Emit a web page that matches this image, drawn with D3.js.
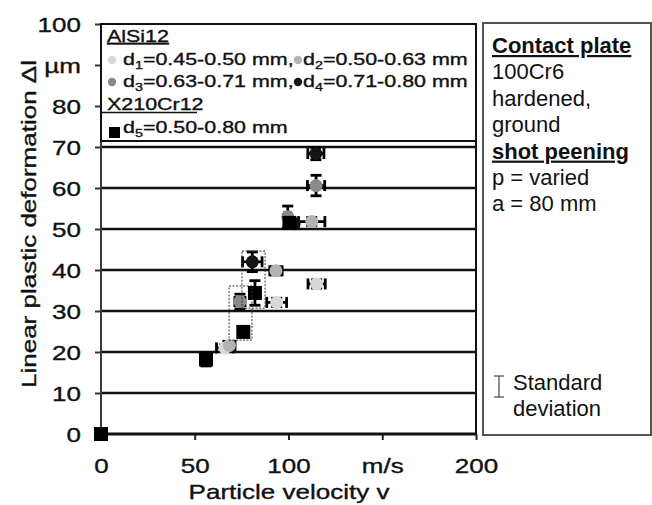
<!DOCTYPE html>
<html>
<head>
<meta charset="utf-8">
<script src="https://cdn.jsdelivr.net/npm/d3@7"></script>
<style>
	body { margin: 0; background: #fff; }
	svg { display: block; font-family: "Liberation Sans", Arial, sans-serif; }
	.wide { stroke: #111; stroke-width: 0.35px; }
</style>
</head>
<body>
<svg width="652" height="505"></svg>
<script>
// values: velocity v (m/s), deformation dl (µm) and their standard deviations
const seriesKeys = ["d1", "d2", "d3", "d4", "d5"]
const seriesSubs = ["1", "2", "3", "4", "5"]
const seriesRanges = ["=0.45-0.50 mm,", "=0.50-0.63 mm", "=0.63-0.71 mm,", "=0.71-0.80 mm", "=0.50-0.80 mm"]
const seriesColors = ["#d8d8d8", "#b3b3b3", "#8a8a8a", "#141414", "#000000"]

const d1V = [66.1, 93.7, 115.0], d1Dl = [21.0, 32.1, 36.6], d1SdV = [4.5, 5.3, 4.6], d1SdDl = [0.8, 1.0, 1.0]
const d2V = [68.5, 93.3, 112.4], d2Dl = [21.6, 39.8, 51.8], d2SdV = [3.0, 3.3, 7.0], d2SdDl = [0.8, 1.0, 1.0]
const d3V = [74.1, 99.6, 114.7], d3Dl = [32.3, 53.0, 60.6], d3SdV = [2.7, 1.5, 4.6], d3SdDl = [1.8, 2.6, 2.5]
const d4V = [80.7, 103.0, 114.6], d4Dl = [42.0, 51.3, 68.4], d4SdV = [5.2, 2.0, 4.3], d4SdDl = [2.4, 1.0, 1.5]
const d5V = [0, 56.0, 75.9, 82.1, 100.5], d5Dl = [0, 18.2, 24.9, 34.4, 51.5], d5SdV = [0, 1.5, 1.0, 1.5, 2.0], d5SdDl = [0, 1.6, 1.0, 3.0, 1.0]

const xTicks = [0, 50, 100, 150, 200]
const xTickLabels = ["0", "50", "100", "m/s", "200"]
const yTicks = [0, 10, 20, 30, 40, 50, 60, 70, 80, 90, 100]
const yTickLabels = ["0", "10", "20", "30", "40", "50", "60", "70", "80", "µm", "100"]
const gridValues = [10, 20, 30, 40, 50, 60, 70]

// dotted frames around compared points (v from, v to, dl from, dl to)
const boxV0 = [75.2, 68.3], boxV1 = [87.5, 80.5], boxDl0 = [30.7, 22.9], boxDl1 = [44.6, 36.1]

const infoLines = ["Contact plate", "100Cr6", "hardened,", "ground", "shot peening", "p = varied", "a = 80 mm"]
const infoBold = [true, false, false, false, true, false, false]

const svg = d3.select("svg")
const SX = 1.3 // the plot lettering is drawn wide

const x = d3.scaleLinear().domain([0, 200]).range([101, 476])
const y = d3.scaleLinear().domain([0, 100]).range([434, 24])

const series = seriesKeys.map((k, i) => {
	const v = [d1V, d2V, d3V, d4V, d5V][i]
	const dl = [d1Dl, d2Dl, d3Dl, d4Dl, d5Dl][i]
	const sv = [d1SdV, d2SdV, d3SdV, d4SdV, d5SdV][i]
	const sd = [d1SdDl, d2SdDl, d3SdDl, d4SdDl, d5SdDl][i]
	return { key: k, color: seriesColors[i], points: v.map((d, j) => ({ v: d, dl: dl[j], sv: sv[j], sd: sd[j] })) }
})

let wideText = function (g, px, py, size, anchor) {
	return g.append("text")
		.attr("class", "wide")
		.attr("transform", `translate(${px},${py}) scale(${SX},1)`)
		.attr("font-size", size)
		.attr("text-anchor", anchor)
		.attr("fill", "#111")
}

// gridlines
svg.append("g")
	.selectAll("line")
	.data(gridValues)
	.join("line")
	.attr("x1", x(0)).attr("x2", x(200))
	.attr("y1", d => y(d)).attr("y2", d => y(d))
	.attr("stroke", "#111")
	.attr("stroke-width", 2.5)

// axes
const yAxis = svg.append("g")
	.attr("transform", `translate(${x(0)},0)`)
	.call(d3.axisLeft(y).tickValues(yTicks).tickSize(6).tickFormat((d, i) => yTickLabels[i]))
yAxis.select(".domain").remove()
yAxis.selectAll(".tick line").attr("stroke", "#333").attr("stroke-width", 2)
yAxis.selectAll(".tick text")
	.attr("class", "wide")
	.attr("x", -15.5).attr("dy", "0.36em")
	.attr("transform", `scale(${SX},1)`)
	.attr("font-size", 20).attr("font-family", "Liberation Sans, Arial, sans-serif").attr("fill", "#111")

const xAxis = svg.append("g")
	.attr("transform", `translate(0,${y(0)})`)
	.call(d3.axisBottom(x).tickValues(xTicks).tickSize(6).tickFormat((d, i) => xTickLabels[i]))
xAxis.select(".domain").remove()
xAxis.selectAll(".tick line").attr("stroke", "#222").attr("stroke-width", 2)
xAxis.selectAll(".tick text")
	.attr("class", "wide")
	.attr("y", 39).attr("dy", 0)
	.attr("transform", `scale(${SX},1)`)
	.attr("font-size", 20).attr("font-family", "Liberation Sans, Arial, sans-serif").attr("fill", "#111")

svg.append("line")
	.attr("x1", x(0)).attr("x2", x(200)).attr("y1", y(0)).attr("y2", y(0))
	.attr("stroke", "#111").attr("stroke-width", 3)
svg.append("line")
	.attr("x1", x(0)).attr("x2", x(0)).attr("y1", y(100)).attr("y2", y(0) + 6)
	.attr("stroke", "#3a3a3a").attr("stroke-width", 2)
svg.append("line")
	.attr("x1", x(200)).attr("x2", x(200)).attr("y1", y(100)).attr("y2", y(0))
	.attr("stroke", "#111").attr("stroke-width", 2)

// axis titles
wideText(svg, 289, 499, 20, "middle").text("Particle velocity v")
svg.append("text")
	.attr("class", "wide")
	.attr("transform", `translate(36,224) rotate(-90) scale(${SX},1)`)
	.attr("font-size", 20)
	.attr("text-anchor", "middle")
	.attr("fill", "#111")
	.text("Linear plastic deformation Δl")

// legend box inside the plot
const legend = svg.append("g").attr("class", "legend")
legend.append("rect")
	.attr("x", x(0)).attr("y", y(100))
	.attr("width", x(200) - x(0)).attr("height", 117)
	.attr("fill", "#fff").attr("stroke", "#111").attr("stroke-width", 2)

wideText(legend, 107, 42, 16.5, "start").style("text-decoration", "underline").text("AlSi12")
wideText(legend, 107, 110, 16.5, "start").text("X210Cr12")
legend.append("line")
	.attr("x1", x(0)).attr("x2", 197).attr("y1", 112.5).attr("y2", 112.5)
	.attr("stroke", "#111").attr("stroke-width", 1.5)

const legendPos = [[112, 65], [298, 65], [112, 87], [298, 87], [112, 133]]
series.forEach((s, i) => {
	const [lx, ly] = legendPos[i]
	if (s.key === "d5") {
		legend.append("rect")
			.attr("x", lx - 3).attr("y", ly - 6).attr("width", 11).attr("height", 11)
			.attr("fill", s.color)
	} else {
		legend.append("circle")
			.attr("cx", lx).attr("cy", ly - 5).attr("r", 4.2)
			.attr("fill", s.color)
	}
	const t = wideText(legend, lx + (i % 2 ? 5 : 11), ly, 16.5, "start")
	t.append("tspan").text("d")
	t.append("tspan").attr("font-size", 11).attr("dy", 4).text(seriesSubs[i])
	t.append("tspan").attr("dy", -4).text(seriesRanges[i])
})

// error bars
const cap = 5.5
const bars = svg.append("g").attr("stroke", "#000").attr("stroke-width", 2.8)
series.forEach(s => {
	s.points.filter(p => p.sv > 0 || p.sd > 0).forEach(p => {
		const cx = x(p.v), cy = y(p.dl)
		const xl = x(p.v - p.sv), xr = x(p.v + p.sv)
		const yt = y(p.dl + p.sd), yb = y(p.dl - p.sd)
		bars.append("line").attr("x1", xl).attr("x2", xr).attr("y1", cy).attr("y2", cy)
		bars.append("line").attr("x1", xl).attr("x2", xl).attr("y1", cy - cap).attr("y2", cy + cap)
		bars.append("line").attr("x1", xr).attr("x2", xr).attr("y1", cy - cap).attr("y2", cy + cap)
		bars.append("line").attr("x1", cx).attr("x2", cx).attr("y1", yt).attr("y2", yb)
		bars.append("line").attr("x1", cx - cap).attr("x2", cx + cap).attr("y1", yt).attr("y2", yt)
		bars.append("line").attr("x1", cx - cap).attr("x2", cx + cap).attr("y1", yb).attr("y2", yb)
	})
})

// markers
series.forEach(s => {
	const g = svg.append("g").attr("fill", s.color)
	if (s.key === "d5") {
		g.selectAll("rect")
			.data(s.points)
			.join("rect")
			.attr("x", d => x(d.v) - 7).attr("y", d => y(d.dl) - 7)
			.attr("width", 14).attr("height", 14)
	} else {
		g.selectAll("circle")
			.data(s.points)
			.join("circle")
			.attr("cx", d => x(d.v)).attr("cy", d => y(d.dl)).attr("r", 6.5)
	}
})

// dotted frames
svg.append("g")
	.selectAll("rect")
	.data(boxV0)
	.join("rect")
	.attr("x", (d, i) => x(boxV0[i]))
	.attr("y", (d, i) => y(boxDl1[i]))
	.attr("width", (d, i) => x(boxV1[i]) - x(boxV0[i]))
	.attr("height", (d, i) => y(boxDl0[i]) - y(boxDl1[i]))
	.attr("fill", "none")
	.attr("stroke", "#333")
	.attr("stroke-width", 1)
	.attr("stroke-dasharray", "2,1.5")

// info box on the right
const info = svg.append("g")
info.append("rect")
	.attr("x", 483).attr("y", 23).attr("width", 168).attr("height", 412)
	.attr("fill", "#fff").attr("stroke", "#555").attr("stroke-width", 2)
info.selectAll("text.line")
	.data(infoLines)
	.join("text")
	.attr("class", "line")
	.attr("x", 492)
	.attr("y", (d, i) => 53 + i * 26.4)
	.attr("font-size", 22)
	.attr("font-weight", (d, i) => infoBold[i] ? "bold" : "normal")
	.style("text-decoration", (d, i) => infoBold[i] ? "underline" : "none")
	.attr("fill", "#111")
	.text(d => d)

const sd = info.append("g").attr("stroke", "#444").attr("stroke-width", 1.2)
sd.append("line").attr("x1", 499).attr("x2", 499).attr("y1", 376).attr("y2", 397)
sd.append("line").attr("x1", 494).attr("x2", 504).attr("y1", 376).attr("y2", 376)
sd.append("line").attr("x1", 494).attr("x2", 504).attr("y1", 397).attr("y2", 397)
info.append("text").attr("x", 513).attr("y", 390).attr("font-size", 22).attr("fill", "#111").text("Standard")
info.append("text").attr("x", 513).attr("y", 416).attr("font-size", 22).attr("fill", "#111").text("deviation")
</script>
</body>
</html>
